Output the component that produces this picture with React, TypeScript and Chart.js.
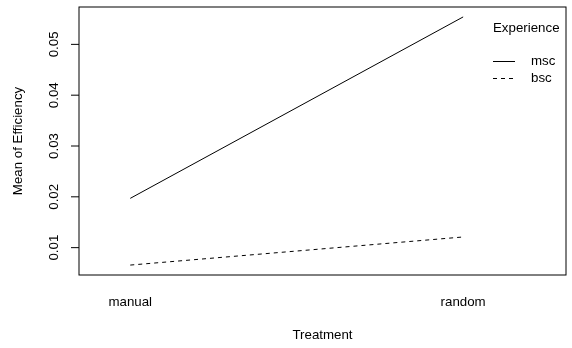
import React, { useEffect, useRef } from "react";
import { Chart, registerables } from "chart.js";

Chart.register(...registerables);

const categories = ["manual", "random"];
const seriesNames = ["msc", "bsc"];
const mscValues = [0.0197, 0.0554];
const bscValues = [0.00657, 0.0121];
const yTicks = [0.01, 0.02, 0.03, 0.04, 0.05];
const yTickLabels = ["0.01", "0.02", "0.03", "0.04", "0.05"];
const xTitle = "Treatment";
const yTitle = "Mean of Efficiency";
const legendTitle = "Experience";

const FONT = "13.3px 'Liberation Sans', Arial, Helvetica, sans-serif";

export default function App() {
  const ref = useRef<HTMLCanvasElement | null>(null);

  useEffect(() => {
    const canvas = ref.current;
    if (!canvas) return;

    const allVals = [...mscValues, ...bscValues];
    const lo = Math.min(...allVals);
    const hi = Math.max(...allVals);
    const ext = (hi - lo) * 0.04;

    const decor = {
      id: "rdecor",
      afterDraw(chart: any) {
        const ctx = chart.ctx as CanvasRenderingContext2D;
        const a = chart.chartArea;
        const xs = chart.scales.x;
        const ys = chart.scales.y;
        ctx.save();
        ctx.strokeStyle = "#000";
        ctx.fillStyle = "#000";
        ctx.lineWidth = 1;
        ctx.setLineDash([]);
        // box
        ctx.strokeRect(a.left, a.top, a.right - a.left, a.bottom - a.top);
        ctx.font = FONT;
        // y ticks
        yTicks.forEach((v, i) => {
          const py = ys.getPixelForValue(v);
          ctx.beginPath();
          ctx.moveTo(a.left - 8, py);
          ctx.lineTo(a.left, py);
          ctx.stroke();
          ctx.save();
          ctx.translate(a.left - 25, py);
          ctx.rotate(-Math.PI / 2);
          ctx.textAlign = "center";
          ctx.textBaseline = "middle";
          ctx.fillText(yTickLabels[i], 0, 0);
          ctx.restore();
        });
        // x labels
        ctx.textAlign = "center";
        ctx.textBaseline = "middle";
        categories.forEach((c, i) => {
          const px = xs.getPixelForValue(i + 1);
          ctx.fillText(c, px, a.bottom + 27);
        });
        // axis titles
        ctx.fillText(xTitle, (a.left + a.right) / 2, a.bottom + 60);
        ctx.save();
        ctx.translate(18, (a.top + a.bottom) / 2);
        ctx.rotate(-Math.PI / 2);
        ctx.fillText(yTitle, 0, 0);
        ctx.restore();
        // legend
        const lx = a.right - 73;
        ctx.textAlign = "left";
        ctx.fillText(legendTitle, lx, a.top + 21);
        const dashes = [[], [4, 4]];
        seriesNames.forEach((s, i) => {
          const ly = a.top + 54.5 + i * 17;
          ctx.setLineDash(dashes[i]);
          ctx.beginPath();
          ctx.moveTo(lx, ly);
          ctx.lineTo(lx + 22, ly);
          ctx.stroke();
          ctx.setLineDash([]);
          ctx.fillText(s, lx + 38, ly);
        });
        ctx.restore();
      },
    };

    const chart = new Chart(canvas, {
      type: "line",
      data: {
        datasets: [
          {
            label: seriesNames[0],
            data: mscValues.map((v, i) => ({ x: i + 1, y: v })),
            borderColor: "#000",
            borderWidth: 1,
            pointRadius: 0,
            fill: false,
          },
          {
            label: seriesNames[1],
            data: bscValues.map((v, i) => ({ x: i + 1, y: v })),
            borderColor: "#000",
            borderWidth: 1,
            borderDash: [4, 4],
            pointRadius: 0,
            fill: false,
          },
        ],
      },
      options: {
        animation: false,
        responsive: false,
        layout: { padding: { left: 79, top: 7, right: 6, bottom: 73 } },
        plugins: { legend: { display: false }, tooltip: { enabled: false } },
        scales: {
          x: { type: "linear", display: false, min: 0.846, max: 2.309 },
          y: { type: "linear", display: false, min: lo - ext, max: hi + ext },
        },
      },
      plugins: [decor],
    });
    return () => chart.destroy();
  }, []);

  return (
    <div style={{ position: "fixed", left: 0, top: 0, width: 572, height: 348, background: "#fff" }}>
      <canvas ref={ref} width={572} height={348} style={{ display: "block" }} />
    </div>
  );
}
